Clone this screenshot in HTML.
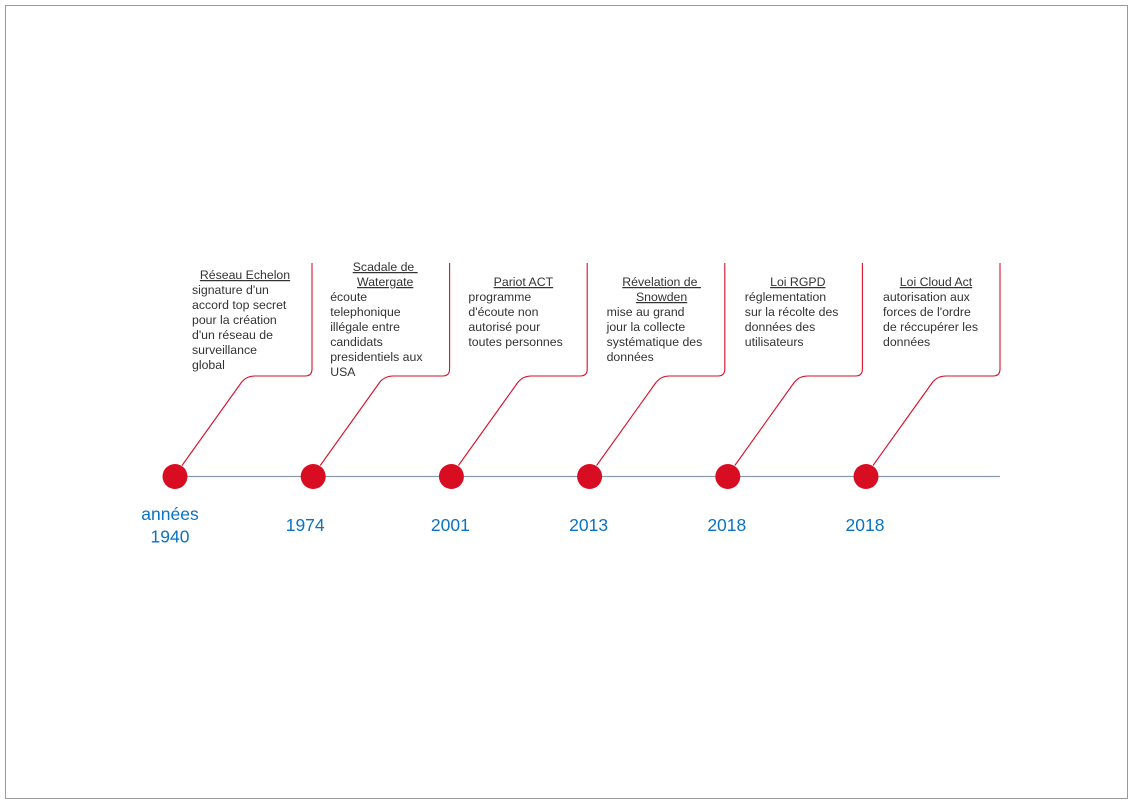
<!DOCTYPE html>
<html><head><meta charset="utf-8"><style>
body{margin:0;background:#fff;}
svg{display:block;font-family:"Liberation Sans",sans-serif;}
</style></head><body>
<svg id="c" width="1133" height="804">
<rect x="5.5" y="5.5" width="1122" height="793" fill="#fff" stroke="#9a9a9a"/>
<line x1="175" y1="476.5" x2="1000" y2="476.5" stroke="#8a9bb0" stroke-width="1.2"/>
</svg>
<script>
const years = [["années","1940"],["1974"],["2001"],["2013"],["2018"],["2018"]];
const titles = [["Réseau Echelon"],["Scadale de ","Watergate"],["Pariot ACT"],["Révelation de ","Snowden"],["Loi RGPD"],["Loi Cloud Act"]];
const descs = [
 ["signature d'un","accord top secret","pour la création","d'un réseau de","surveillance","global"],
 ["écoute","telephonique","illégale entre","candidats","presidentiels aux","USA"],
 ["programme","d'écoute non","autorisé pour","toutes personnes"],
 ["mise au grand","jour la collecte","systématique des","données"],
 ["réglementation","sur la récolte des","données des","utilisateurs"],
 ["autorisation aux","forces de l'ordre","de réccupérer les","données"]
];
const svg=document.getElementById('c');
const NS='http://www.w3.org/2000/svg';
const x0=175, step=138.2, yAxis=476.5;
const titleTop=[279,271,286,286,286,286];
function xs(i){return x0+i*step;}
function mk(tag,attrs){const e=document.createElementNS(NS,tag);for(const k in attrs)e.setAttribute(k,attrs[k]);svg.appendChild(e);return e;}
years.forEach((y,i)=>{
  const x=xs(i);
  const vx=312+i*137.6;
  const p=mk('path',{d:`M${x+7},${yAxis-11} L${x+66},${383} Q${x+71},${376} ${x+80},${376} L${vx-7},${376} Q${vx},${376} ${vx},${369} L${vx},263`,fill:'none',stroke:'#d8102a','stroke-width':1.1});
  
  
  const c=mk('circle',{cx:x,cy:yAxis,r:12.5,fill:'#d80d22'});
  
  
  const yc=i===0?x-5:(i===1?x-8:x-1);
  const yt=mk('text',{'text-anchor':'middle',fill:'#0a72c4','font-size':17.5});
  
  
  const y0=y.length>1?520:531;
  y.forEach((l,j)=>{const ts=document.createElementNS(NS,'tspan');ts.setAttribute('x',yc);ts.setAttribute('y',y0+j*22.5);ts.textContent=l;yt.appendChild(ts);});
  const tx=x+17;
  const nt=titles[i].length;
  const tStart=titleTop[i];
  const tt=mk('text',{'text-anchor':'middle',fill:'#333','font-size':12.3,'text-decoration':'underline'});
  
  
  const tcenter=(i===0||i>=4)?x+70:x+72;
  titles[i].forEach((l,j)=>{const ts=document.createElementNS(NS,'tspan');ts.setAttribute('x',tcenter);ts.setAttribute('y',tStart+j*15);ts.textContent=l;tt.appendChild(ts);});
  const dt=mk('text',{fill:'#333','font-size':12.3});
  
  
  const dStart=tStart+nt*15;
  descs[i].forEach((l,j)=>{const ts=document.createElementNS(NS,'tspan');ts.setAttribute('x',tx);ts.setAttribute('y',dStart+j*15);ts.textContent=l;dt.appendChild(ts);});
});
</script>
</body></html>
